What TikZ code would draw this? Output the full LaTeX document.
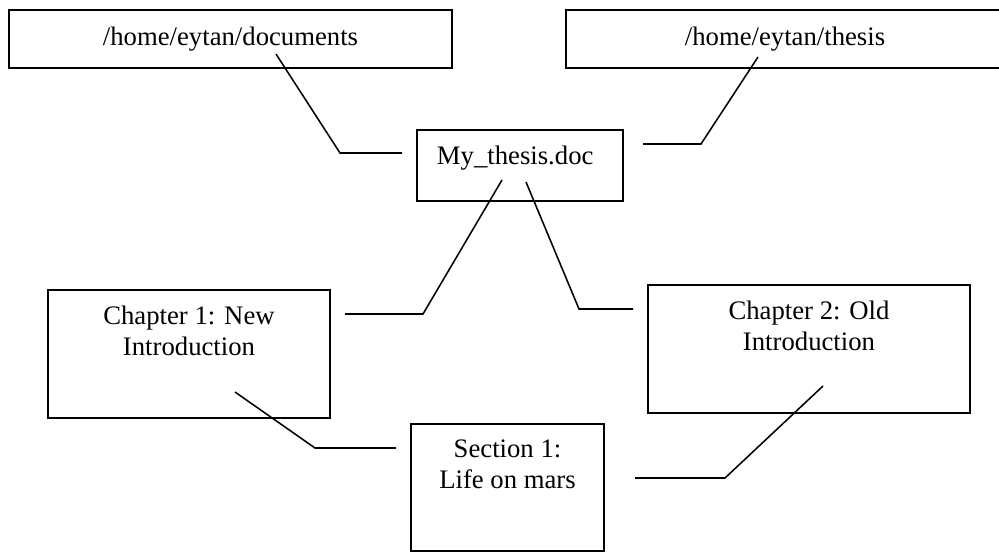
\documentclass[tikz,border=0pt]{standalone}
\usepackage{fontspec}
\setmainfont{Liberation Serif}
\usetikzlibrary{positioning}

\begin{document}
\begin{tikzpicture}[
    font=\fontsize{19}{22}\selectfont,
    box/.style={draw, line width=1.3pt, inner sep=0pt},
    boxtext/.style={inner sep=0pt, align=center},
    link/.style={line width=1.1pt}
  ]
  \clip (0,0) rectangle (24.975,-13.8);

  % the boxes
  \node[box, minimum width=11.075cm, minimum height=1.45cm] (docs) at (5.7625,-0.975) {/home/eytan/documents};
  \node[box, minimum width=10.95cm, minimum height=1.45cm] (thesisdir) at (19.625,-0.975) {/home/eytan/thesis};
  \node[box, minimum width=5.15cm, minimum height=1.775cm] (doc) at (13.0,-4.1375) {};
  \node[box, minimum width=7.05cm, minimum height=3.2cm] (ch1) at (4.725,-8.85) {};
  \node[box, minimum width=8.05cm, minimum height=3.2cm] (ch2) at (20.225,-8.725) {};
  \node[box, minimum width=4.825cm, minimum height=3.175cm] (sec) at (12.6875,-12.1875) {};

  \node[boxtext, below=0.42cm of doc.north, xshift=-0.12cm] (doctext) {My\_thesis.doc};
  \node[boxtext, below=0.42cm of ch1.north] (ch1text) {Chapter 1: New\\Introduction};
  \node[boxtext, below=0.42cm of ch2.north] (ch2text) {Chapter 2: Old\\Introduction};
  \node[boxtext, below=0.42cm of sec.north] (sectext) {Section 1:\\Life on mars};

  % the links
  \coordinate (docs-a) at (6.9,-1.35);
  \coordinate (docs-b) at (8.5,-3.825);
  \coordinate (doc-l) at (10.05,-3.825);
  \coordinate (thesis-a) at (18.95,-1.425);
  \coordinate (thesis-b) at (17.525,-3.6);
  \coordinate (doc-r) at (16.075,-3.6);
  \coordinate (doc-a) at (12.55,-4.5);
  \coordinate (doc-b) at (10.575,-7.85);
  \coordinate (ch1-r) at (8.625,-7.85);
  \coordinate (doc-c) at (13.15,-4.55);
  \coordinate (doc-d) at (14.475,-7.725);
  \coordinate (ch2-l) at (15.825,-7.725);
  \coordinate (ch1-a) at (5.875,-9.8);
  \coordinate (ch1-b) at (7.875,-11.2);
  \coordinate (sec-l) at (9.9,-11.2);
  \coordinate (ch2-a) at (20.575,-9.65);
  \coordinate (ch2-b) at (18.125,-11.95);
  \coordinate (sec-r) at (15.875,-11.95);

  \draw[link] (docs-a) -- (docs-b) -- (doc-l);
  \draw[link] (thesis-a) -- (thesis-b) -- (doc-r);
  \draw[link] (doc-a) -- (doc-b) -- (ch1-r);
  \draw[link] (doc-c) -- (doc-d) -- (ch2-l);
  \draw[link] (ch1-a) -- (ch1-b) -- (sec-l);
  \draw[link] (ch2-a) -- (ch2-b) -- (sec-r);
\end{tikzpicture}
\end{document}
